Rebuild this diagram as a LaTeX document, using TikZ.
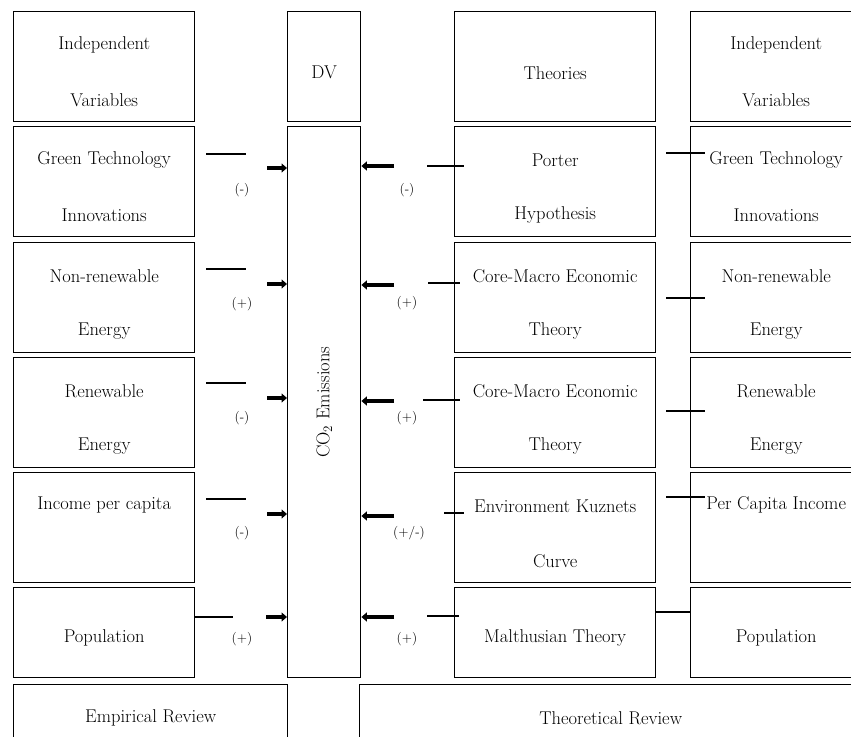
\documentclass[tikz,border=0pt]{standalone}
\usetikzlibrary{positioning,arrows.meta}

\tikzset{
  box/.style={draw, line width=1.4pt, anchor=north west, inner sep=0pt},
  txt/.style={font=\fontsize{18.5}{22}\selectfont, inner sep=1pt},
  sgn/.style={font=\fontsize{13.5}{16}\selectfont, inner sep=1pt},
  fatarrow/.style={line width=4.4pt, -{Triangle[length=5.5pt,width=9pt]}},
  tick/.style={line width=1.3pt}
}

\begin{document}
\begin{tikzpicture}[x=1pt, y=-1pt]
    \useasboundingbox (0,0) rectangle (851,736);
    \clip (0,0) rectangle (851,736);

    % Header row
    \node[box, minimum width=181pt, minimum height=110pt] (lvh) at (13,11) {};
    \node[box, minimum width=73pt, minimum height=110pt] (dv) at (287,11) {};
    \node[box, minimum width=201pt, minimum height=110pt] (thh) at (454,11) {};
    \node[box, minimum width=171pt, minimum height=110pt] (rvh) at (690,11) {};

    % Dependent variable column
    \node[box, minimum width=73pt, minimum height=551pt] (co2) at (287,126) {};
    \node[txt, rotate=90] (co2t) at (co2.center) {CO\textsubscript{2} Emissions};

    % Rows of variables and theories
    \foreach \i/\t/\h in {1/126/110, 2/242/110, 3/357/110, 4/472/110, 5/587/90} {
        \node[box, minimum width=181pt, minimum height=\h pt] (lv\i) at (13,\t) {};
        \node[box, minimum width=201pt, minimum height=\h pt] (th\i) at (454,\t) {};
        \node[box, minimum width=171pt, minimum height=\h pt] (rv\i) at (690,\t) {};
    }

    % Review boxes
    \node[box, minimum width=274pt, minimum height=80pt] (emp) at (13,684) {};
    \node[box, minimum width=502pt, minimum height=80pt] (theo) at (359,684) {};

    % Two-line texts
    \foreach \n/\a/\b in {lvh/Independent/Variables, lv1/Green Technology/Innovations,
        lv2/Non-renewable/Energy, lv3/Renewable/Energy,
        rvh/Independent/Variables, rv1/Green Technology/Innovations,
        rv2/Non-renewable/Energy, rv3/Renewable/Energy,
        th1/Porter/Hypothesis, th2/Core-Macro Economic/Theory,
        th3/Core-Macro Economic/Theory, th4/Environment Kuznets/Curve} {
        \node[txt] (\n-a) at ([yshift=-34pt]\n.north) {\a};
        \node[txt] (\n-b) at ([yshift=-89pt]\n.north) {\b};
    }

    % One-line texts
    \node[txt] (dv-a) at ([yshift=-6pt]dv.center) {DV};
    \node[txt] (thh-a) at ([yshift=-6pt]thh.center) {Theories};
    \node[txt] (lv4-a) at ([yshift=-33pt]lv4.north) {Income per capita};
    \node[txt] (rv4-a) at ([yshift=-33pt]rv4.north) {Per Capita Income};
    \node[txt] (lv5-a) at ([yshift=-51pt]lv5.north) {Population};
    \node[txt] (th5-a) at ([yshift=-51pt]th5.north) {Malthusian Theory};
    \node[txt] (rv5-a) at ([yshift=-51pt]rv5.north) {Population};
    \node[txt] (emp-a) at ([yshift=-34pt]emp.north) {Empirical Review};
    \node[txt] (theo-a) at ([yshift=-34pt]theo.north) {Theoretical Review};

    % Links to CO2 emissions
    \foreach \i/\ll/\la/\ra/\rs/\re/\rl/\rr in {1/154/168/166/427/464/166/153,
        2/269/284/285/428/460/283/298, 3/383/398/401/423/460/400/411,
        4/499/514/516/444/464/513/497} {
        \draw[tick] (206,\ll) -- (246,\ll);
        \coordinate (al\i) at (267,\la);
        \draw[fatarrow] (al\i) -- (al\i -| co2.west);
        \coordinate (ar\i) at (394,\ra);
        \draw[fatarrow] (ar\i) -- (ar\i -| co2.east);
        \draw[tick] (\rs,\rl) -- (\re,\rl);
        \draw[tick] (666,\rr) -- (705,\rr);
    }
    \draw[tick] (lv5.east |- 0,617) -- (233,617);
    \coordinate (al5) at (266,617);
    \draw[fatarrow] (al5) -- (al5 -| co2.west);
    \coordinate (ar5) at (394,617);
    \draw[fatarrow] (ar5) -- (ar5 -| co2.east);
    \draw[tick] (427,616) -- (459,616);
    \draw[tick] (th5.east |- 0,612) -- (rv5.west |- 0,612);

    % Signs
    \node[sgn] (sl1) at (242,190) {(-)};
    \node[sgn] (sl2) at (242,304) {(+)};
    \node[sgn] (sl3) at (242,418) {(-)};
    \node[sgn] (sl4) at (242,533) {(-)};
    \node[sgn] (sl5) at (242,639) {(+)};
    \node[sgn] (sr1) at (407,190) {(-)};
    \node[sgn] (sr2) at (407,303) {(+)};
    \node[sgn] (sr3) at (407,418) {(+)};
    \node[sgn] (sr4) at (409,533) {(+/-)};
    \node[sgn] (sr5) at (407,639) {(+)};
\end{tikzpicture}
\end{document}
